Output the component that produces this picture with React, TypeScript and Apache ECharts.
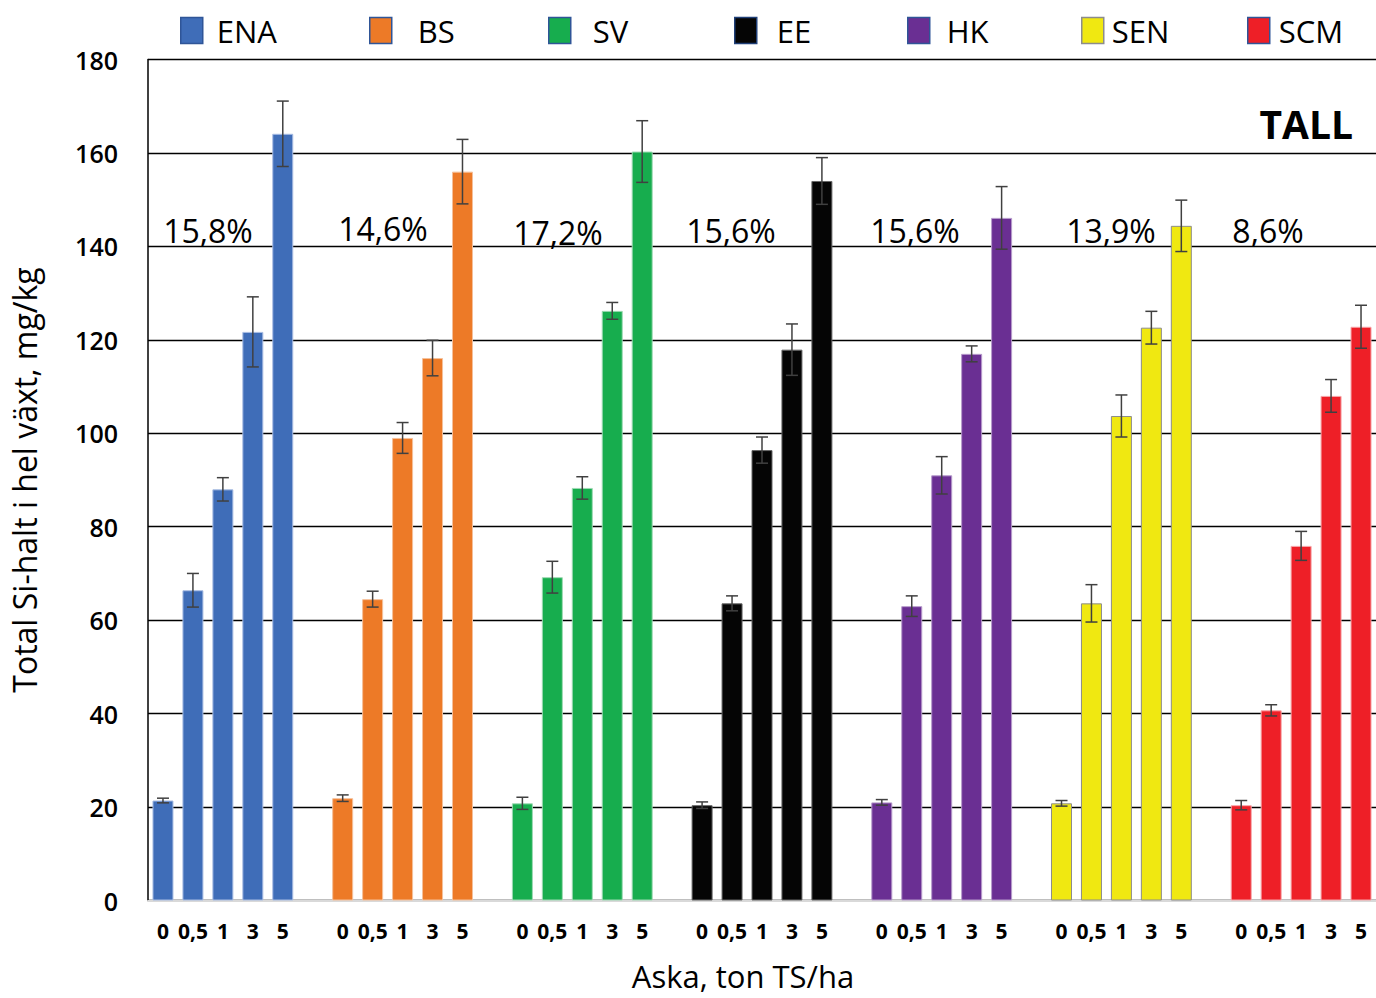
import React, { useEffect, useRef } from "react";
import * as echarts from "echarts";

const groups = ["ENA", "BS", "SV", "EE", "HK", "SEN", "SCM"];
const doses = ["0", "0,5", "1", "3", "5"];
const colors = ["#3F6DB8", "#ED7A27", "#17AD4E", "#050505", "#6A2F93", "#F0E811", "#EE1F27"];
const barBorders = ["#A9BDE3", "#F5C09A", "#9ED9B3", "#666666", "#B79BCB", "#8C8C8C", "#F7A5A8"];
const legendBorders = ["#2F5597", "#2F5597", "#2F5597", "#1F3F77", "#2F5597", "#8C8C8C", "#2F5597"];

const ENA = [21.4, 66.4, 88.0, 121.7, 164.1];
const BS = [21.9, 64.5, 99.0, 116.1, 156.0];
const SV = [20.8, 69.2, 88.3, 126.2, 160.3];
const EE = [20.4, 63.6, 96.4, 117.9, 154.0];
const HK = [21.0, 63.0, 91.0, 117.0, 146.1];
const SEN = [20.8, 63.6, 103.7, 122.6, 144.4];
const SCM = [20.4, 40.7, 75.9, 108.0, 122.8];

const ENA_err = [0.5, 3.6, 2.5, 7.5, 7.0];
const BS_err = [0.7, 1.7, 3.3, 3.8, 6.9];
const SV_err = [1.3, 3.4, 2.4, 1.8, 6.6];
const EE_err = [0.7, 1.6, 2.8, 5.5, 5.0];
const HK_err = [0.6, 2.2, 4.0, 1.7, 6.7];
const SEN_err = [0.6, 4.0, 4.5, 3.5, 5.5];
const SCM_err = [1.0, 1.2, 3.1, 3.5, 4.6];

const percentLabels = ["15,8%", "14,6%", "17,2%", "15,6%", "15,6%", "13,9%", "8,6%"];

const yTicksMin = 0;
const yTicksMax = 180;
const yTicksStep = 20;

const values = [ENA, BS, SV, EE, HK, SEN, SCM];
const errors = [ENA_err, BS_err, SV_err, EE_err, HK_err, SEN_err, SCM_err];

const FONT = "'Open Sans', 'Noto Sans', sans-serif";

export default function App() {
  const ref = useRef<HTMLDivElement>(null);
  useEffect(() => {
    document.body.style.margin = "0";
    if (!ref.current) return;
    const chart = echarts.init(ref.current, null, { renderer: "svg" });

    const slotsPerGroup = doses.length + 1;
    const categories: string[] = [];
    groups.forEach((_, g) => {
      doses.forEach((d) => categories.push(d));
      if (g < groups.length - 1) categories.push("");
    });

    const barSeries = groups.map((name, g) => {
      const data: (number | null)[] = categories.map(() => null);
      values[g].forEach((v, i) => {
        data[g * slotsPerGroup + i] = v;
      });
      return {
        name,
        type: "bar",
        stack: "all",
        barWidth: 21,
        data,
        itemStyle: { color: colors[g], borderColor: barBorders[g], borderWidth: 1 },
      };
    });

    const errData: number[][] = [];
    groups.forEach((_, g) => {
      values[g].forEach((v, i) => {
        errData.push([g * slotsPerGroup + i, v - errors[g][i], v + errors[g][i]]);
      });
    });

    const errSeries = {
      type: "custom",
      name: "err",
      data: errData,
      z: 10,
      renderItem: (params: any, api: any) => {
        const lo = api.coord([api.value(0), api.value(1)]);
        const hi = api.coord([api.value(0), api.value(2)]);
        const hw = 6;
        const style = { stroke: "#404040", lineWidth: 1.5 };
        return {
          type: "group",
          children: [
            { type: "line", shape: { x1: lo[0], y1: lo[1], x2: hi[0], y2: hi[1] }, style },
            { type: "line", shape: { x1: lo[0] - hw, y1: lo[1], x2: lo[0] + hw, y2: lo[1] }, style },
            { type: "line", shape: { x1: hi[0] - hw, y1: hi[1], x2: hi[0] + hw, y2: hi[1] }, style },
          ],
        };
      },
    };

    const legendIconLeft = [180, 369, 548, 734, 907, 1081, 1247];
    const legendTextGap = [14, 26, 22, 20, 17, 8, 9];
    const legends = groups.map((name, g) => ({
      left: legendIconLeft[g],
      top: 15,
      padding: 0,
      itemWidth: 22,
      itemHeight: 26,
      icon: "rect",
      selectedMode: false,
      data: [
        {
          name,
          itemStyle: { color: colors[g], borderColor: legendBorders[g], borderWidth: 1.5 },
        },
      ],
      textStyle: {
        fontSize: 31,
        fontFamily: FONT,
        color: "#000",
        padding: [0, 0, 0, legendTextGap[g] - 5],
      },
    }));

    const pctX = [208, 383, 558, 731, 915, 1111, 1268];
    const pctY = [230, 228, 232, 230, 230, 230, 230];

    chart.setOption({
      animation: false,
      legend: legends,
      grid: { left: 142, top: 59.5, width: 1238, height: 841, containLabel: false },
      xAxis: {
        type: "category",
        data: categories,
        axisTick: { show: false },
        axisLine: { show: true, lineStyle: { color: "#D9D9D9", width: 2 } },
        axisLabel: {
          interval: 0,
          margin: 20,
          fontSize: 21,
          fontWeight: "bold",
          fontFamily: FONT,
          color: "#000",
        },
      },
      yAxis: {
        type: "value",
        min: yTicksMin,
        max: yTicksMax,
        interval: yTicksStep,
        name: "Total Si-halt i hel växt, mg/kg",
        nameLocation: "middle",
        nameGap: 108,
        nameTextStyle: { fontSize: 32, fontFamily: FONT, color: "#000" },
        axisLine: { show: true, lineStyle: { color: "#000", width: 1.5 } },
        axisTick: { show: false },
        splitLine: { show: true, lineStyle: { color: "#000", width: 1.3 } },
        axisLabel: {
          margin: 30,
          fontSize: 25,
          fontWeight: 600,
          fontFamily: FONT,
          color: "#000",
        },
      },
      graphic: [
        ...percentLabels.map((t, i) => ({
          type: "text",
          x: pctX[i],
          y: pctY[i],
          style: {
            text: t,
            fontSize: 32,
            fontFamily: FONT,
            fill: "#000",
            textAlign: "center",
            textVerticalAlign: "middle",
          },
        })),
        {
          type: "text",
          x: 1353,
          y: 123,
          style: {
            text: "TALL",
            fontSize: 39,
            fontWeight: "bold",
            fontFamily: FONT,
            fill: "#000",
            textAlign: "right",
            textVerticalAlign: "middle",
          },
        },
        {
          type: "text",
          x: 743,
          y: 976,
          style: {
            text: "Aska, ton TS/ha",
            fontSize: 31,
            fontFamily: FONT,
            fill: "#000",
            textAlign: "center",
            textVerticalAlign: "middle",
          },
        },
      ],
      series: [...barSeries, errSeries],
    });

    return () => chart.dispose();
  }, []);

  return <div ref={ref} style={{ width: 1376, height: 998 }} />;
}
